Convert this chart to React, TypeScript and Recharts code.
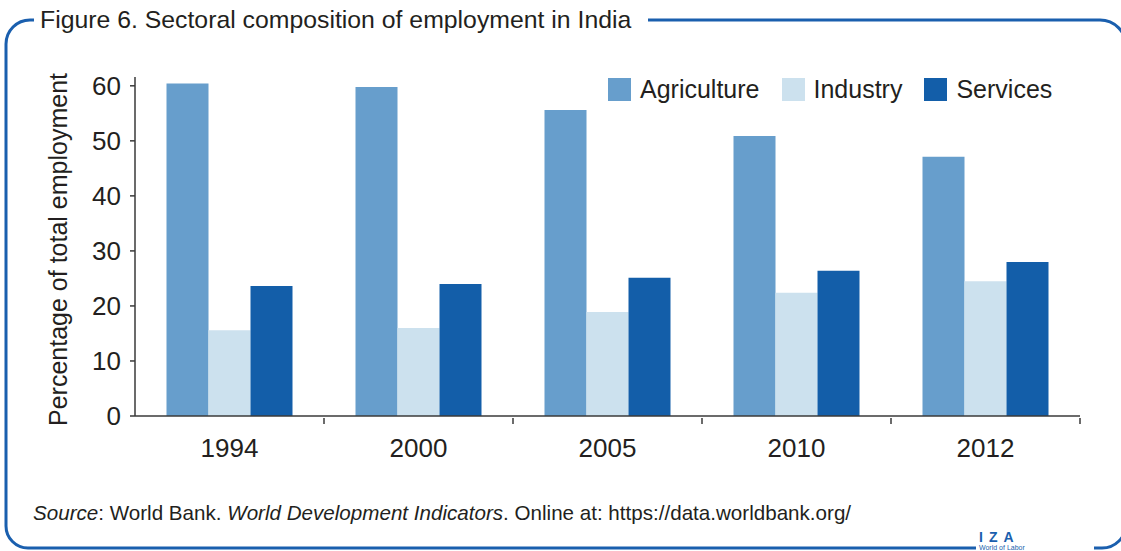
import { BarChart, Bar, XAxis, YAxis, Legend } from 'recharts';

const YEARS = ['1994', '2000', '2005', '2010', '2012'];
const AGRICULTURE = [60.4, 59.8, 55.6, 50.9, 47.1];
const INDUSTRY = [15.6, 16.0, 18.9, 22.4, 24.5];
const SERVICES = [23.6, 24.0, 25.1, 26.4, 28.0];
const Y_TICKS = [0, 10, 20, 30, 40, 50, 60];

const C = {
  agri: '#679ECC',
  ind: '#CCE1EE',
  serv: '#135EA9',
  frame: '#1A5FAE',
  ink: '#231F20',
  axis: '#3A3A3A',
};

const SERIES = [
  { key: 'agriculture', name: 'Agriculture', color: C.agri },
  { key: 'industry', name: 'Industry', color: C.ind },
  { key: 'services', name: 'Services', color: C.serv },
];

const data = YEARS.map((year, i) => ({
  year,
  agriculture: AGRICULTURE[i],
  industry: INDUSTRY[i],
  services: SERVICES[i],
}));

const FONT = '"Liberation Sans", Arial, sans-serif';

// label in the middle, small tick at the right edge of each band
function XTick(props: any) {
  const { x, y, payload } = props;
  const half = payload && payload.offset ? payload.offset : 94.5;
  return (
    <g>
      <line x1={x + half} y1={y} x2={x + half} y2={y + 6} stroke={C.axis} strokeWidth={1.5} />
      <text x={x} y={y + 39} textAnchor="middle" fontSize={26} fill={C.ink} fontFamily={FONT}>
        {payload.value}
      </text>
    </g>
  );
}

function YLabel(props: any) {
  const vb = props.viewBox || {};
  const cy = (vb.y ?? 77) + (vb.height ?? 339) / 2 + 3;
  return (
    <text x={67} y={cy} transform={`rotate(-90, 67, ${cy})`} textAnchor="middle"
      fontSize={25} fill={C.ink} fontFamily={FONT}>
      Percentage of total employment
    </text>
  );
}

function LegendBox() {
  return (
    <div style={{ display: 'flex', alignItems: 'center', fontFamily: FONT, fontSize: 25, color: C.ink }}>
      {SERIES.map((s, i) => (
        <div key={s.key} style={{ display: 'flex', alignItems: 'center', marginRight: i < 2 ? 22 : 0 }}>
          <span style={{ width: 23, height: 23, background: s.color, display: 'inline-block', marginRight: 9 }} />
          <span>{s.name}</span>
        </div>
      ))}
    </div>
  );
}

export default function App() {
  return (
    <div style={{ position: 'absolute', left: 0, top: 0, width: 1121, height: 551, overflow: 'hidden', background: '#fff' }}>
      <BarChart width={1121} height={551} data={data}
        margin={{ top: 77, right: 41, left: 0, bottom: 60 }}
        barCategoryGap={31.5} barGap={0}>
        <XAxis dataKey="year" height={75} tickSize={0} tickLine={false}
          axisLine={{ stroke: C.axis, strokeWidth: 1.5 }} tick={(p: any) => <XTick {...p} />} interval={0} />
        <YAxis width={135} domain={[0, 61.6]} ticks={Y_TICKS} interval={0} allowDataOverflow
          tickSize={5} tickMargin={9}
          axisLine={{ stroke: C.axis, strokeWidth: 1.5 }} tickLine={{ stroke: C.axis, strokeWidth: 1.5 }}
          tick={{ fontSize: 26, fill: C.ink, fontFamily: FONT }}
          label={(p: any) => <YLabel {...p} />} />
        <Legend layout="horizontal" verticalAlign="middle" align="center"
          wrapperStyle={{ top: 75, left: 608, width: 'auto' }} content={() => <LegendBox />} />
        {SERIES.map((s) => (
          <Bar key={s.key} dataKey={s.key} name={s.name} fill={s.color} isAnimationActive={false} />
        ))}
      </BarChart>

      {/* frame, title, source, logo */}
      <svg width={1121} height={551} style={{ position: 'absolute', left: 0, top: 0, pointerEvents: 'none' }}>
        <path d="M 34 20 H 30 A 24 24 0 0 0 6 44 V 526 A 22 22 0 0 0 28 548 H 976"
          fill="none" stroke={C.frame} strokeWidth={3} />
        <path d="M 648 20 H 1100 A 26 26 0 0 1 1126 46 V 524 A 24 24 0 0 1 1102 548 H 1094"
          fill="none" stroke={C.frame} strokeWidth={3} />
        <text x={40} y={28} fontSize={24.8} fill={C.ink} fontFamily={FONT}>
          Figure 6. Sectoral composition of employment in India
        </text>
        <text x={33} y={520} fontSize={20.6} fill={C.ink} fontFamily={FONT}>
          <tspan fontStyle="italic">Source</tspan>: World Bank. <tspan fontStyle="italic">World Development Indicators</tspan>. Online at: https://data.worldbank.org/
        </text>
        <text x={979} y={542} fontSize={14} fontWeight="bold" fill={C.frame} fontFamily={FONT} letterSpacing={6}>
          IZA
        </text>
        <text x={979} y={550} fontSize={7} fill={C.frame} fontFamily={FONT}>
          World of Labor
        </text>
      </svg>
    </div>
  );
}
